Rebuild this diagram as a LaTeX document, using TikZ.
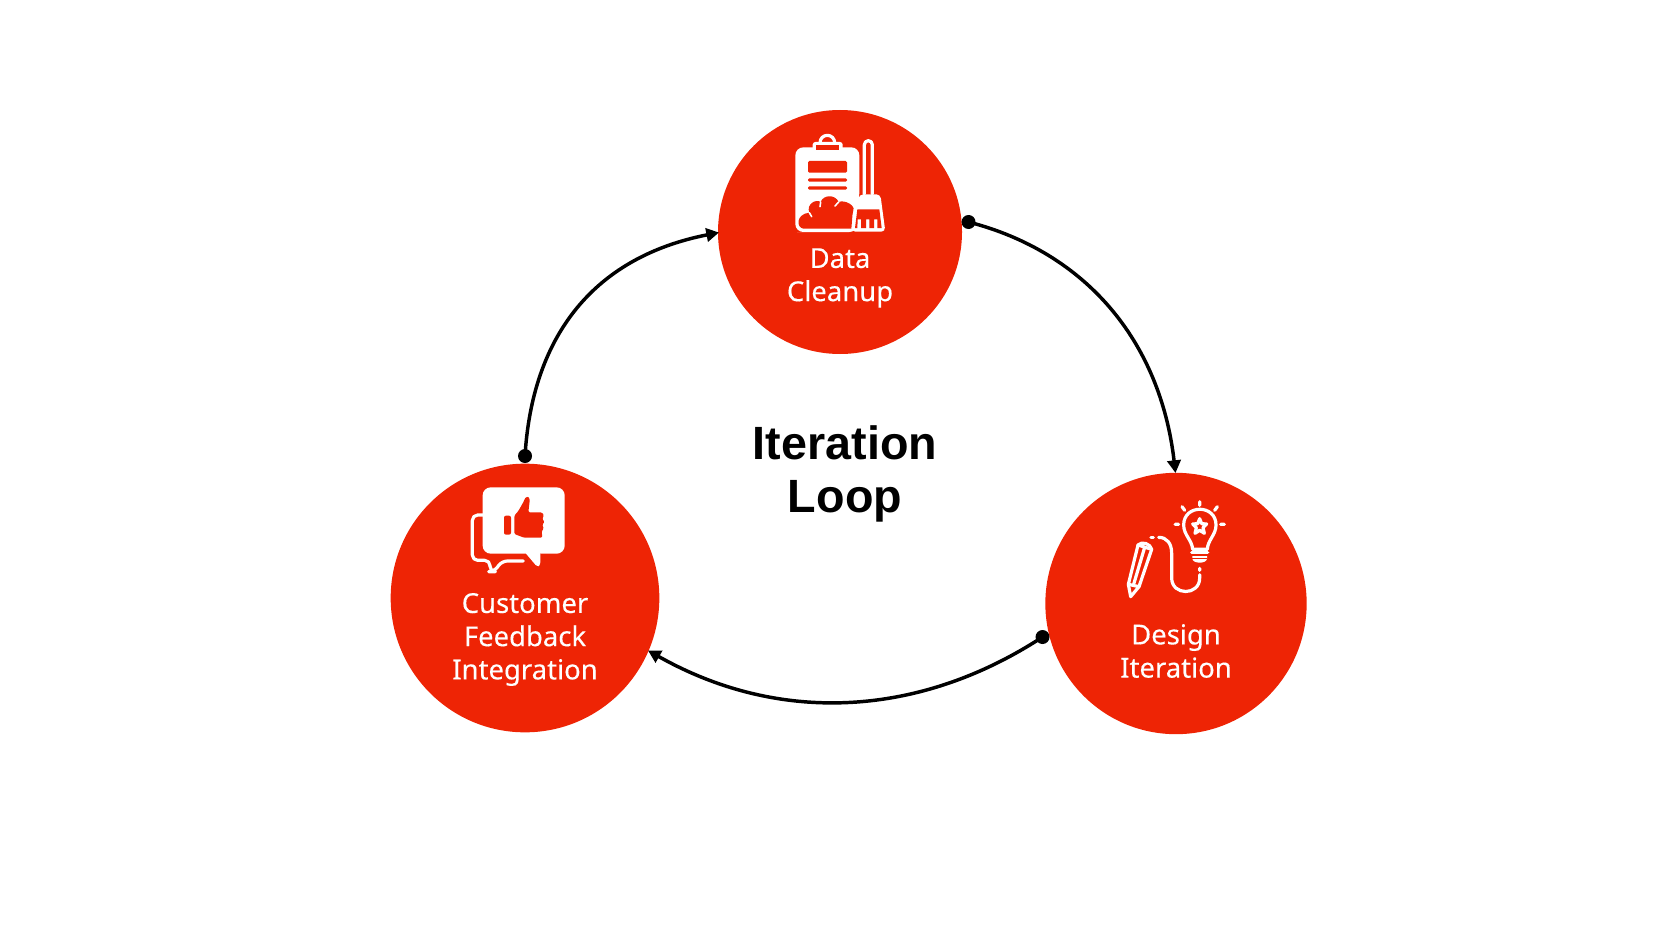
\documentclass[tikz,border=0pt]{standalone}
\usepackage{fontspec}
\setmainfont[FakeBold=0.25]{Noto Sans}
\newfontfamily\titlefont{Liberation Sans}
\usetikzlibrary{arrows.meta}
\definecolor{brandred}{HTML}{EE2405}
\tikzset{
  stage/.style={circle,fill=brandred,draw=none,inner sep=0pt},
  caption/.style={text=white,align=center,font=\fontsize{20.6}{24.9}\selectfont,inner sep=0pt},
  headline/.style={text=black,align=center,font=\titlefont\fontsize{35}{40.2}\selectfont\bfseries,inner sep=0pt},
  loopline/.style={draw=black,line width=2.6pt,-{Triangle[length=9.5pt,width=10pt]}},
  startdot/.style={circle,fill=black,inner sep=0pt,minimum size=10.5pt},
  iconw/.style={draw=white,line width=2.4pt,line cap=round,line join=round},
  iconf/.style={fill=white,draw=none},
  iconr/.style={fill=brandred,draw=none},
}
\begin{document}
\begin{tikzpicture}[x=0.75pt,y=-0.75pt]
\useasboundingbox (0,0) rectangle (1680,945);
\node[stage,minimum size=183pt] (clean) at (840,232) {};
\node[stage,minimum size=201.5pt] (cust) at (525,598) {};
\node[stage,minimum size=196pt] (design) at (1176,603.5) {};
\node[caption] (cleanT) at (840,278) {Data\\Cleanup};
\node[caption] (custT) at (525,639.5) {Customer\\Feedback\\Integration};
\node[caption] (designT) at (1176,651) {Design\\Iteration};
\node[headline] (title) at (845,474) {Iteration\\Loop};
\node[startdot] (d1) at (968.5,222) {};
\node[startdot] (d2) at (1042.5,637) {};
\node[startdot] (d3) at (525,456) {};
\coordinate (e1) at (1175.5,473);
\coordinate (e2) at (648,650.5);
\coordinate (e3) at (719,232.5);
\draw[loopline] (d1.center) .. controls (1085,252) and (1160,340) .. (e1);
\draw[loopline] (d2.center) .. controls (920,717) and (780,725) .. (e2);
\draw[loopline] (d3.center) .. controls (532,340) and (590,258) .. (e3);
% clipboard and broom
\begin{scope}[shift={(770,120)},x=.25pt,y=-.25pt]
\fill[white,rounded corners=6pt] (76,82) -- (268,82) -- (268,226) -- (262,336) -- (105,336) -- (76,336) -- cycle;
\fill[iconf,rounded corners=2pt] (128,66) rectangle (218,92);
\draw[iconw] (150,68) arc[start angle=180,end angle=360,radius=22];
\fill[iconr] (138,76) rectangle (206,91);
\fill[iconr,rounded corners=1pt] (114,123) rectangle (231,158);
\fill[iconr,rounded corners=1pt] (114,175) rectangle (231,185);
\fill[iconr,rounded corners=1pt] (114,199) rectangle (231,209);
\fill[iconr] (100,326) .. controls (78,322) and (78,282) .. (118,278)
  .. controls (108,252) and (138,236) .. (152,246)
  .. controls (160,224) and (195,222) .. (206,246)
  .. controls (226,238) and (256,258) .. (250,270)
  .. controls (246,285) and (246,310) .. (244,326) -- cycle;
\draw[iconw,line width=1.2pt] (118,278) -- (125,290) (152,246) -- (150,260) (206,246) -- (195,258);
\draw[iconw] (283,222) -- (283,74) arc[start angle=180,end angle=360,radius=12] -- (307,222);
\fill[iconf,rounded corners=3pt] (268,223) -- (331,223) -- (346,335) -- (244,335) -- cycle;
\fill[iconr] (262,268) -- (328,268) -- (335,324) -- (322,324) -- (322,298) -- (312,298) -- (312,324) -- (298,324) -- (298,298) -- (288,298) -- (288,324) -- (273,324) -- (273,298) -- (263,298) -- (262,324) -- (255,324) -- cycle;
\end{scope}
% bulb and pencil
\begin{scope}[shift={(1110,490)},x=.25pt,y=-.25pt]
\draw[iconw] (248,178) -- (292,178) .. controls (293,150) and (318,135) .. (318,105)
  .. controls (318,42) and (221,42) .. (221,105) .. controls (221,135) and (246,150) .. (248,178);
\draw[iconw] (269,86) -- (275,101) -- (290,102) -- (279,113) -- (283,130) -- (269,121) -- (255,130) -- (259,113) -- (248,102) -- (263,101) -- cycle;
\draw[iconw] (245,187) -- (293,187);
\fill[iconf] (247,198) -- (291,198) -- (291,206) .. controls (290,222) and (248,222) .. (247,206) -- cycle;
\fill[iconr] (247,205) rectangle (291,208);
\draw[iconw] (269,35) -- (269,46) (216,50) -- (224,61) (322,50) -- (314,61) (195,103) -- (206,103) (332,103) -- (343,103) (269,235) -- (269,241);
\draw[iconw] (269,254) -- (269,264) .. controls (269,318) and (185,318) .. (185,264) -- (185,190) .. controls (185,160) and (170,142) .. (146,142);
\draw[iconw] (123,142) -- (130,142);
\draw[iconw] (84,165) .. controls (96,152) and (122,162) .. (125,178) -- (87,290) -- (62,320) -- (55,283) -- cycle;
\draw[iconw] (84,165) -- (125,178);
\draw[iconw] (104,172) -- (70,286) (55,283) -- (87,290);
\end{scope}
% speech bubbles
\begin{scope}[shift={(460,475)},x=.25pt,y=-.25pt]
\fill[iconf,rounded corners=6pt] (68,37) rectangle (314,236);
\fill[iconf,rounded corners=2pt] (193,230) -- (232,276) -- (241,270) -- (241,230) -- cycle;
\draw[iconw,rounded corners=4pt] (68,120) -- (37,120) -- (37,256) -- (90,256) -- (90,290) -- (102,290) -- (126,258) -- (190,258);
\fill[iconr,rounded corners=1.5pt] (132,122) rectangle (153,179);
\fill[iconr,rounded corners=1pt] (163,122) -- (175,108) -- (192,78) .. controls (196,64) and (208,62) .. (209,78) -- (205,112) -- (246,112) -- (252,122) -- (246,132) -- (254,140) -- (246,150) -- (252,160) -- (245,168) -- (247,188) -- (192,188) -- (163,177) -- cycle;
\end{scope}
\end{tikzpicture}
\end{document}
